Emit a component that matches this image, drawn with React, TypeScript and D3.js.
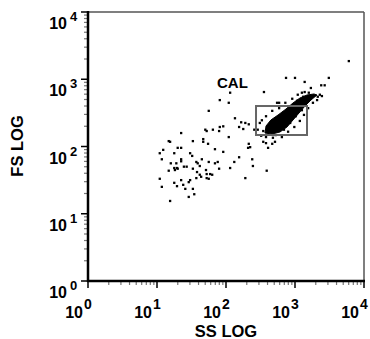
import React from 'react';
import * as d3 from 'd3';

// values are in log10 decades (SS LOG, FS LOG)
const decades = [0, 1, 2, 3, 4];

const scatterPoints: [number, number][] = [
  [2.06, 2.80], [1.91, 2.69], [2.04, 2.65], [1.75, 2.53], [2.13, 2.42],
  [2.22, 2.36], [2.28, 2.35], [2.33, 2.33], [1.96, 2.30], [2.19, 2.29],
  [1.72, 2.23], [1.90, 2.23], [1.35, 2.20], [2.04, 2.14], [1.17, 2.08],
  [1.19, 2.07], [1.52, 2.08], [1.67, 2.07], [1.74, 2.04], [2.33, 2.04],
  [2.58, 2.05], [2.61, 1.98], [2.32, 1.98], [1.30, 1.98], [1.35, 1.98],
  [1.84, 1.96], [1.09, 1.95], [1.04, 1.90], [1.96, 1.92], [1.25, 1.90],
  [1.48, 1.90], [1.51, 1.86], [2.19, 1.84], [1.07, 1.81], [1.35, 1.81],
  [1.35, 1.78], [1.65, 1.81], [2.38, 1.81], [2.12, 1.77], [1.20, 1.75],
  [1.57, 1.77], [1.59, 1.75], [1.28, 1.75], [1.75, 1.77], [1.88, 1.77],
  [1.84, 1.75], [1.62, 1.71], [2.39, 1.71], [1.25, 1.68], [1.29, 1.68],
  [1.26, 1.65], [1.30, 1.67], [1.39, 1.70], [1.43, 1.70], [1.17, 1.64],
  [1.52, 1.67], [1.71, 1.65], [1.90, 1.67], [2.06, 1.68], [1.58, 1.62],
  [1.62, 1.58], [1.72, 1.59], [1.77, 1.59], [1.80, 1.58], [2.59, 1.64],
  [1.57, 1.53], [1.64, 1.55], [1.72, 1.53], [1.75, 1.52], [1.04, 1.52],
  [2.28, 1.53], [1.48, 1.50], [1.46, 1.47], [1.35, 1.50], [1.25, 1.46],
  [1.38, 1.43], [1.07, 1.40], [1.29, 1.41], [1.41, 1.37], [1.52, 1.37],
  [1.54, 1.29], [1.46, 1.25], [1.19, 1.19],
  [3.78, 3.27], [2.87, 3.02], [3.00, 3.02], [3.14, 2.96], [3.49, 3.02],
  [3.38, 2.91], [3.43, 2.91], [3.23, 2.87], [3.20, 2.80], [2.55, 2.81],
  [3.10, 2.80], [2.74, 2.65], [2.77, 2.65], [1.70, 2.25], [1.81, 2.25],
  [1.91, 2.29], [2.25, 2.26], [1.67, 2.11], [2.54, 2.07], [2.67, 2.04],
  [2.71, 2.07], [2.35, 1.99],
];

// events at the ragged edge of the CAL population
const clusterFringe: [number, number][] = [
  [2.49, 2.35], [2.46, 2.25], [2.52, 2.39], [2.58, 2.45], [2.67, 2.53],
  [2.77, 2.57], [2.86, 2.65], [2.96, 2.71], [3.04, 2.77], [3.14, 2.81],
  [3.33, 2.74], [3.36, 2.77], [3.26, 2.65], [3.19, 2.57], [3.13, 2.47],
  [3.07, 2.38], [2.99, 2.29], [2.90, 2.22], [2.81, 2.14], [2.68, 2.13],
  [2.58, 2.14], [2.51, 2.16], [2.41, 2.25], [3.32, 2.69],
  [2.61, 2.25], [2.64, 2.33], [2.72, 2.42], [2.83, 2.50], [2.93, 2.60],
  [3.03, 2.68], [3.12, 2.74], [3.20, 2.74], [3.10, 2.54], [3.01, 2.45],
  [2.93, 2.35], [2.84, 2.25], [2.72, 2.17], [2.54, 2.23], [3.39, 2.75],
];

// outline of the dense CAL population
const clusterCore: [number, number][] = [
  [2.565, 2.20], [2.58, 2.305], [2.65, 2.394], [2.754, 2.468], [2.87, 2.558],
  [2.971, 2.647], [3.072, 2.721], [3.174, 2.766], [3.275, 2.781], [3.319, 2.766],
  [3.232, 2.691], [3.145, 2.602], [3.058, 2.498], [2.971, 2.394], [2.884, 2.29],
  [2.783, 2.216], [2.667, 2.186],
];

const gateSS = [2.435, 3.174];
const gateFS = [2.171, 2.602];
const gateLabel = 'CAL';

const W = 370;
const H = 339;
const font = '"Liberation Sans", Arial, sans-serif';

export default function App() {
  const x = d3.scaleLog().domain([1, 1e4]).range([88, 364]);
  const y = d3.scaleLog().domain([1, 1e4]).range([281, 12]);
  const px = (v: number) => x(Math.pow(10, v));
  const py = (v: number) => y(Math.pow(10, v));

  const ticks = x.ticks();
  const isMajor = (t: number) => Math.abs(Math.log10(t) - Math.round(Math.log10(t))) < 1e-9;

  const corePath = d3.line<[number, number]>()
    .x(d => px(d[0]))
    .y(d => py(d[1]))
    .curve(d3.curveLinearClosed)(clusterCore) || '';

  const dot = 2.3;

  return (
    <svg width={W} height={H} style={{ position: 'absolute', left: 0, top: 0, background: '#fff' }}>
      {/* frame */}
      <line x1={88} x2={364} y1={12} y2={12} stroke="#555" strokeWidth={1.5} />
      <line x1={364} x2={364} y1={12} y2={281} stroke="#555" strokeWidth={1.5} />

      {/* y ticks */}
      {ticks.map((t, i) => (
        <line key={'yt' + i} x1={isMajor(t) ? 81 : 84} x2={88} y1={y(t)} y2={y(t)}
          stroke={isMajor(t) ? '#000' : '#777'} strokeWidth={isMajor(t) ? 1.5 : 1.2} />
      ))}
      {/* x ticks */}
      {ticks.map((t, i) => (
        <line key={'xt' + i} y1={281} y2={isMajor(t) ? 288 : 285} x1={x(t)} x2={x(t)}
          stroke={isMajor(t) ? '#000' : '#777'} strokeWidth={isMajor(t) ? 1.5 : 1.2} />
      ))}

      {/* axes */}
      <line x1={88} x2={88} y1={11} y2={282} stroke="#000" strokeWidth={2.5} />
      <line x1={87} x2={365} y1={281} y2={281} stroke="#000" strokeWidth={2.5} />

      {/* y tick labels */}
      {decades.map(d => (
        <g key={'yl' + d} fontFamily={font} fontWeight="bold" fill="#000">
          <text x={67} y={py(d) + 17} textAnchor="end" fontSize={16}>10</text>
          <text x={70} y={py(d) + 9} fontSize={13}>{d}</text>
        </g>
      ))}
      {/* x tick labels */}
      {decades.map(d => (
        <g key={'xl' + d} fontFamily={font} fontWeight="bold" fill="#000">
          <text x={px(d) - 5} y={318} textAnchor="end" fontSize={16}>10</text>
          <text x={px(d) - 4} y={309} fontSize={14}>{d}</text>
        </g>
      ))}

      {/* axis titles */}
      <text x={226} y={337} textAnchor="middle" fontFamily={font} fontWeight="bold" fontSize={16.5}>SS LOG</text>
      <text transform="translate(23,146) rotate(-90)" textAnchor="middle" fontFamily={font}
        fontWeight="bold" fontSize={16.5}>FS LOG</text>

      {/* events */}
      <path d={corePath} fill="#000" stroke="#000" strokeWidth={1} strokeLinejoin="round" />
      {scatterPoints.concat(clusterFringe).map((p, i) => (
        <rect key={'p' + i} x={px(p[0]) - dot / 2} y={py(p[1]) - dot / 2} width={dot} height={dot} fill="#000" />
      ))}

      {/* gate */}
      <rect x={px(gateSS[0])} y={py(gateFS[1])} width={px(gateSS[1]) - px(gateSS[0])}
        height={py(gateFS[0]) - py(gateFS[1])} fill="none" stroke="#666" strokeWidth={2} />
      <text x={217} y={88} fontFamily={font} fontWeight="bold" fontSize={15}>{gateLabel}</text>
    </svg>
  );
}
